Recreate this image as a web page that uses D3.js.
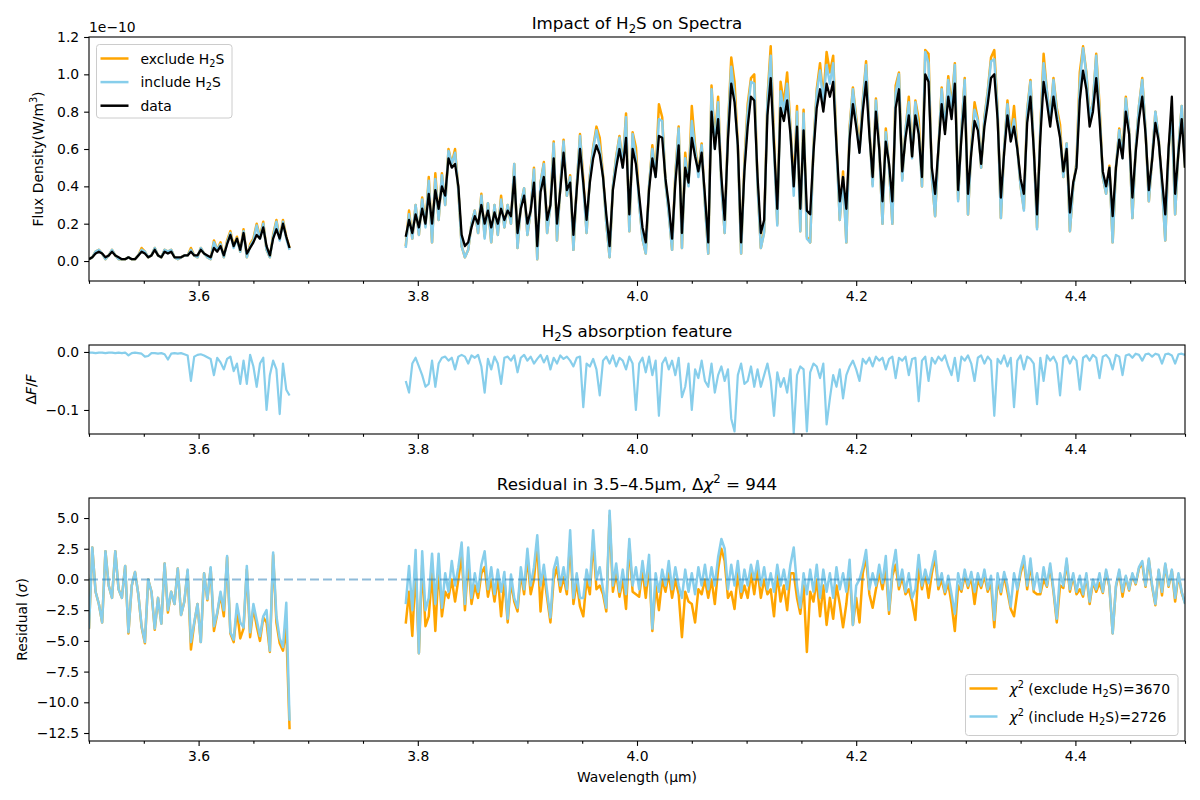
<!DOCTYPE html>
<html>
<head>
<meta charset="utf-8">
<title>Impact of H2S on Spectra</title>
<script src="https://cdn.jsdelivr.net/npm/d3@7"></script>
<style>
  body { margin: 0; background: #fff; }
  svg { display: block; font-family: 'DejaVu Sans', sans-serif; }
</style>
</head>
<body>
<div id="figure"></div>
<script>
// wavelength grid (µm): two observed segments, sampled every 0.003 µm
const WAVE_STEP = 0.003;
const waveStartA = 3.5;
const waveStartB = 3.789;

// flux density, in hundredths of 1e-10 W/m^3
const fluxDataA = [1,2,4,5,4,2,3,5,3,2, 1,1,2,1,1,3,5,4,2,3, 6,3,2,5,4,5,2,2,2,3, 3,5,3,3,6,4,3,2,7,5,
  8,3,9,14,8,12,6,15,4,7, 10,14,12,18,8,3,12,17,12,20, 13,7];
const fluxIncludeA = [1,2,5,6,4,1,3,6,3,1, 1,1,2,1,1,3,6,5,2,3, 7,3,2,6,5,6,2,1,2,3, 3,6,3,2,7,4,2,1,10,6,
  9,2,10,15,7,12,5,16,2,8, 11,19,12,20,6,2,13,21,11,21, 12,6];
const fluxExcludeA = [1,2,5,6,4,1,3,6,3,1, 1,1,2,1,1,3,7,5,2,3, 7,3,2,6,5,6,2,1,2,3, 3,7,3,2,7,4,2,1,11,6,
  10,2,11,16,8,13,5,17,2,9, 12,20,13,21,6,2,14,22,12,22, 13,7];

const fluxDataB = [13,22,15,25,18,28,20,36,20,38, 28,40,35,55,50,52,40,14,8,10, 18,24,20,30,20,27,18,26,20,28,
  22,27,24,45,15,28,35,20,27,42, 8,37,45,22,30,55,20,38,58,38, 42,14,38,60,42,22,42,55,62,57,
  45,25,8,38,50,60,50,66,25,60, 52,35,18,10,38,55,45,67,66,44, 30,12,42,62,15,50,42,66,56,48,
  58,35,10,80,60,76,45,22,65,95, 85,62,10,48,72,88,86,45,15,22, 78,98,62,28,82,75,86,68,40,72,
  28,70,27,25,58,82,92,80,95,88, 96,62,32,45,28,65,84,72,58,80, 96,68,45,80,60,32,64,52,32,82,
  92,48,66,78,56,78,68,45,100,96, 50,36,60,84,68,88,76,95,38,66, 88,36,58,75,70,52,72,84,98,100,
  76,34,58,78,64,72,60,44,36,74, 88,60,25,66,96,85,72,88,76,66, 48,60,26,42,50,86,102,92,72,80,
  98,76,48,40,50,24,50,65,55,80, 68,34,58,76,88,68,38,54,74,64, 44,25,60,88,36,58,76,50];
const fluxIncludeB = [7,25,12,30,14,33,18,43,10,44, 22,46,30,59,52,58,38,8,2,6, 20,27,15,35,12,31,10,30,14,33,
  18,30,20,52,7,30,39,14,27,49, 1,42,52,15,30,63,11,40,64,35, 45,6,40,67,40,15,45,60,70,61,
  45,20,2,40,55,66,50,77,16,68, 55,30,12,4,40,60,45,76,75,42, 25,6,45,71,7,55,40,75,60,45,
  62,30,4,92,60,85,40,15,70,104, 88,60,4,50,80,96,95,40,7,15, 85,110,60,19,91,80,95,70,35,80,
  16,79,12,10,60,90,102,85,105,95, 106,60,22,45,10,70,92,75,58,85, 105,70,40,86,60,20,69,50,20,90,
  100,43,70,85,55,85,70,40,112,106, 45,24,60,92,70,97,80,105,32,70, 97,25,60,81,75,50,76,90,107,108,
  80,23,60,84,65,76,60,40,27,80, 96,60,17,70,106,91,75,97,80,68, 45,63,16,40,52,95,114,100,76,85,
  110,80,45,36,50,10,50,70,55,87, 70,23,60,83,97,70,32,55,80,65, 40,11,60,78,25,60,83,50];
const fluxExcludeB = [8,27,12,30,14,34,19,45,10,47, 22,47,30,60,52,60,38,8,2,6, 20,27,15,36,13,31,10,30,14,35,
  18,30,20,52,7,30,39,14,27,50, 1,42,53,15,31,64,11,40,65,35, 46,6,40,68,44,15,46,61,72,66,
  46,20,2,40,56,67,51,79,16,69, 61,31,12,4,40,62,46,84,77,42, 26,6,47,72,7,58,41,83,62,47,
  63,31,4,94,64,88,41,15,72,109, 96,62,4,53,84,98,100,41,7,16, 87,115,66,20,96,84,101,72,40,83,
  16,81,13,10,61,92,106,87,112,101, 110,63,22,48,10,72,93,77,61,86, 107,71,41,87,61,20,71,50,20,94,
  101,44,70,88,56,86,76,40,113,111, 45,24,60,93,70,99,83,106,33,70, 98,25,61,85,76,50,77,91,109,113,
  81,23,60,86,66,83,61,40,28,81, 97,61,18,71,111,91,76,98,82,73, 45,63,16,40,53,101,115,101,77,85,
  111,84,45,36,51,10,50,71,57,88, 70,23,60,83,98,70,32,55,80,65, 41,11,60,78,25,60,83,50];

// H2S absorption ΔF/F, in thousandths
const absorptionA = [-1,-1,-2,-1,-1,-2,-1,-1,-2,-1, -2,-1,-6,-2,-1,-2,-3,-8,-7,-2, -2,-3,-2,-4,-13,-3,-2,-3,-2,-4,
  -6,-50,-8,-5,-4,-6,-9,-12,-40,-10, -18,-30,-12,-8,-33,-20,-55,-15,-55,-5, -25,-60,-20,-10,-100,-40,-15,-30,-107,-20,
  -65,-75];
const absorptionB = [-50,-70,-20,-10,-25,-40,-60,-55,-15,-60, -20,-10,-8,-15,-10,-30,-8,-5,-8,-20,
  -6,-10,-5,-25,-70,-12,-30,-8,-20,-55, -10,-8,-15,-6,-35,-10,-5,-15,-8,-20, -12,-5,-18,-7,-30,-10,-20,-6,-12,-8,
  -15,-25,-10,-8,-95,-20,-25,-12,-30,-75, -15,-8,-20,-6,-25,-10,-15,-30,-8,-20, -100,-20,-10,-35,-8,-40,-15,-110,-20,-10,
  -30,-15,-40,-10,-78,-60,-20,-100,-30,-45, -15,-50,-60,-20,-70,-40,-25,-50,-30,-115, -137,-40,-20,-55,-50,-25,-60,-30,-60,-40,
  -20,-50,-110,-35,-60,-45,-70,-30,-140,-40, -25,-30,-137,-35,-20,-25,-45,-20,-125,-80, -40,-60,-30,-80,-40,-25,-15,-30,-50,-12,
  -20,-10,-25,-8,-15,-10,-30,-12,-8,-45, -10,-15,-8,-40,-12,-10,-85,-15,-8,-50, -10,-20,-8,-15,-6,-25,-40,-10,-50,-8,
  -15,-6,-20,-50,-10,-6,-20,-8,-15,-110, -12,-20,-6,-25,-10,-95,-15,-6,-30,-8, -12,-20,-90,-10,-50,-6,-15,-8,-20,-75,
  -10,-6,-20,-8,-15,-65,-10,-6,-15,-5, -10,-45,-8,-5,-12,-30,-5,-8,-40,-6, -4,-10,-3,-5,-15,-4,-3,-8,-3,-5,
  -20,-4,-3,-6,-20,-4,-3,-5];

// residuals, in tenths of sigma
const residIncludeA = [-40,26,-10,-20,-35,23,-5,-15,23,-8, -15,11,-43,-5,6,-12,-38,-51,0,-10, -40,-15,-36,13,-25,-10,-20,9,-29,-18,
  8,-51,-35,-20,-51,5,-16,10,-38,-27, -10,-25,19,-43,-49,-20,-35,-39,11,-43, -20,-33,-46,-30,-25,-58,22,-30,-48,-55,
  -19,-115];
const residExcludeA = [-40,26,-10,-20,-35,23,-5,-15,23,-8, -15,11,-44,-5,6,-12,-39,-52,0,-10, -41,-15,-36,13,-27,-10,-20,9,-29,-18,
  7,-57,-36,-20,-51,5,-17,9,-42,-28, -12,-30,18,-44,-51,-25,-48,-40,8,-47, -23,-38,-50,-31,-35,-59,20,-35,-52,-58,
  -40,-122];
const residIncludeB = [-20,11,-25,24,-60,23,-25,-15,21,-20, 21,-23,5,-10,15,-5,10,30,-20,26, -15,5,-10,12,23,-8,10,-12,8,-10,
  6,-32,4,-15,-23,10,-8,25,-5,10, 36,-5,12,-10,-31,8,18,-5,10,-8, 40,-15,5,-15,-15,8,-5,40,0,10,
  -8,-23,56,-5,13,-10,8,-12,33,-5, 10,-8,15,-5,20,-40,5,-10,8,-5, 15,-8,10,-5,-15,8,-10,5,-12,10,
  -5,12,-8,10,-5,18,33,25,-8,12, -5,15,-10,8,-5,12,0,15,-5,10, -8,5,-10,12,-5,8,-8,12,26,-5,
  -23,5,-12,8,-10,12,-15,8,-10,5, -15,10,-8,5,-10,16,-37,-5,0,10, 24,-8,5,-5,12,-3,19,-25,8,24,
  -5,8,-10,5,-15,-8,20,-5,8,-3, 10,23,-5,5,-10,3,-12,-28,5,-8, 8,-5,6,-10,5,-5,8,-8,3,-33,
  5,-10,6,-5,-22,5,-8,8,19,-5, 17,-8,5,-10,10,-5,13,-8,-32,5, -5,17,-8,5,-10,3,-12,5,-18,0,
  -8,5,-10,8,-5,-44,-5,8,-10,3, -8,5,-3,10,15,-5,17,-5,-20,8, -10,13,-5,8,-15,5,-10,-20];
const residExcludeB = [-36,-10,-46,10,-60,12,-38,-30,5,-42, 10,-30,-10,-15,0,-18,0,20,-25,15, -20,-5,-15,5,10,-14,0,-18,2,-30,
  0,-35,-2,-18,-26,5,-12,18,-12,0, 30,-26,5,-15,-35,0,10,-10,2,-12, 30,-20,-2,-22,-30,0,-12,32,-8,-5,
  -12,-26,52,-10,5,-14,0,-24,28,-10, -12,-14,8,-15,12,-42,-5,-25,0,-10, 5,-15,0,-12,-47,-10,-18,-20,-35,-8,
  -12,0,-15,0,-20,8,25,15,-15,-10, -24,5,-15,-5,-15,5,-12,8,-15,0, -12,-8,-30,5,-18,-5,-25,5,5,-15,
  -28,-5,-59,-10,-18,0,-30,-5,-37,-15, -32,-5,-20,-39,-20,8,-37,-15,-35,5, 18,-12,-23,-8,5,-8,10,-28,3,12,
  -8,2,-12,-8,-18,-33,10,-8,5,-15, 5,18,-8,0,-12,-3,-20,-42,-5,-10, 3,-7,2,-20,0,-7,3,-10,-3,-39,
  0,-12,3,-10,-24,-30,-10,5,15,-8, 12,-10,-12,-12,0,-6,10,-10,-35,-5, -7,14,-10,3,-12,-8,-14,3,-20,-2,
  -10,-3,-11,6,-6,-44,-6,6,-14,2, -9,4,-4,9,13,-6,16,-6,-21,7, -13,12,-6,7,-18,4,-11,-19];

// ticks
const xMajorTicks = [3.6, 3.8, 4.0, 4.2, 4.4];
const xMinorTicks = [3.5, 3.55, 3.65, 3.7, 3.75, 3.85, 3.9, 3.95, 4.05, 4.1, 4.15, 4.25, 4.3, 4.35, 4.45, 4.5];
const fluxTicks = [0, 0.2, 0.4, 0.6, 0.8, 1.0, 1.2];
const absorptionTicks = [0, -0.1];
const residualTicks = [5, 2.5, 0, -2.5, -5, -7.5, -10, -12.5];

const chi2Exclude = 3670;
const chi2Include = 2726;
const deltaChi2 = 944;

class SpectrumFigure {
  constructor() {
    this.colors = {
      exclude: '#ffa500',
      include: '#87ceeb',
      data: '#000000',
      zero: '#1f77b4',
      legendEdge: '#cccccc',
    };
    this.fontSize = 13.9;
    this.left = 89;
    this.right = 1185;
    this.x = d3.scaleLinear().domain([3.5, 4.5]).range([this.left, this.right]);

    this.svg = d3.select('#figure')
      .append('svg')
      .attr('width', 1200)
      .attr('height', 800);
    this.svg.append('rect').attr('width', 1200).attr('height', 800).attr('fill', '#fff');

    this.drawFlux();
    this.drawAbsorption();
    this.drawResidual();
  }

  toPoints(start, values, unit) {
    return values.map((v, i) => ({ w: start + i * WAVE_STEP, v: v * unit }));
  }

  // small mathtext-like helper: parts = [[text, style], ...]
  rich(textSel, parts, size) {
    parts.forEach(([t, style]) => {
      const ts = textSel.append('tspan').text(t);
      if (style === 'sub') ts.attr('font-size', size * 0.7).attr('baseline-shift', -size * 0.22);
      if (style === 'sup') ts.attr('font-size', size * 0.7).attr('baseline-shift', size * 0.42);
      if (style === 'it') ts.attr('font-style', 'italic');
    });
    return textSel;
  }

  makePanel(id, top, bottom, domain) {
    const y = d3.scaleLinear().domain(domain).range([bottom, top]);
    const g = this.svg.append('g');
    this.svg.append('clipPath').attr('id', `clip-${id}`)
      .append('rect')
      .attr('x', this.left).attr('y', top)
      .attr('width', this.right - this.left).attr('height', bottom - top);
    const plot = g.append('g').attr('clip-path', `url(#clip-${id})`);
    return { id, top, bottom, y, g, plot };
  }

  drawLine(panel, points, color, width) {
    const { x } = this;
    panel.plot.append('path')
      .datum(points)
      .attr('fill', 'none')
      .attr('stroke', color)
      .attr('stroke-width', width)
      .attr('stroke-linejoin', 'round')
      .attr('d', d3.line().x((d) => x(d.w)).y((d) => panel.y(d.v)));
  }

  styleAxis(sel) {
    sel.select('.domain').remove();
    sel.attr('font-family', null).attr('font-size', null);
    sel.selectAll('line').attr('stroke', '#000').attr('stroke-width', 1.1);
    sel.selectAll('text').attr('fill', '#000').attr('font-size', this.fontSize);
  }

  drawAxes(panel, yTicks) {
    const { g, y, top, bottom } = panel;
    g.append('g')
      .attr('transform', `translate(0,${bottom})`)
      .call(d3.axisBottom(this.x).tickValues(xMinorTicks).tickSize(2.8).tickFormat(''))
      .call((s) => this.styleAxis(s));
    g.append('g')
      .attr('transform', `translate(0,${bottom})`)
      .call(d3.axisBottom(this.x).tickValues(xMajorTicks).tickSize(4.9).tickPadding(4.9)
        .tickFormat(d3.format('.1f')))
      .call((s) => this.styleAxis(s));
    g.append('g')
      .attr('transform', `translate(${this.left},0)`)
      .call(d3.axisLeft(y).tickValues(yTicks).tickSize(4.9).tickPadding(4.9)
        .tickFormat(d3.format('.1f')))
      .call((s) => this.styleAxis(s));
    g.append('rect')
      .attr('x', this.left).attr('y', top)
      .attr('width', this.right - this.left).attr('height', bottom - top)
      .attr('fill', 'none').attr('stroke', '#000').attr('stroke-width', 1.1);
  }

  title(panel, parts) {
    const t = this.svg.append('text')
      .attr('x', (this.left + this.right) / 2)
      .attr('y', panel.top - 8)
      .attr('text-anchor', 'middle')
      .attr('font-size', 16.7)
      .attr('fill', '#000');
    this.rich(t, parts, 16.7);
  }

  yLabel(panel, xPos, parts) {
    const t = this.svg.append('text')
      .attr('transform', `translate(${xPos},${(panel.top + panel.bottom) / 2}) rotate(-90)`)
      .attr('text-anchor', 'middle')
      .attr('font-size', this.fontSize)
      .attr('fill', '#000');
    this.rich(t, parts, this.fontSize);
  }

  legend(x0, y0, w, h, entries) {
    const g = this.svg.append('g');
    g.append('rect')
      .attr('x', x0).attr('y', y0).attr('width', w).attr('height', h)
      .attr('rx', 3)
      .attr('fill', '#fff').attr('fill-opacity', 0.8)
      .attr('stroke', this.colors.legendEdge).attr('stroke-width', 1);
    entries.forEach((e, i) => {
      const cy = y0 + 14 + i * e.step;
      g.append('line')
        .attr('x1', x0 + 4).attr('x2', x0 + 32)
        .attr('y1', cy).attr('y2', cy)
        .attr('stroke', e.color).attr('stroke-width', 2.5);
      const t = g.append('text')
        .attr('x', x0 + 44).attr('y', cy + 5)
        .attr('font-size', this.fontSize).attr('fill', '#000');
      this.rich(t, e.label, this.fontSize);
    });
  }

  drawFlux() {
    const panel = this.makePanel('flux', 37, 281, [-0.107, 1.2]);
    const { colors } = this;
    const unit = 0.01;
    [fluxExcludeA, fluxExcludeB].forEach((vals, k) => this.drawLine(panel,
      this.toPoints(k ? waveStartB : waveStartA, vals, unit), colors.exclude, 2.5));
    [fluxIncludeA, fluxIncludeB].forEach((vals, k) => this.drawLine(panel,
      this.toPoints(k ? waveStartB : waveStartA, vals, unit), colors.include, 2.5));
    [fluxDataA, fluxDataB].forEach((vals, k) => this.drawLine(panel,
      this.toPoints(k ? waveStartB : waveStartA, vals, unit), colors.data, 2.3));
    this.drawAxes(panel, fluxTicks);

    this.svg.append('text')
      .attr('x', this.left).attr('y', 32)
      .attr('font-size', this.fontSize).attr('fill', '#000')
      .text('1e\u221210');
    this.title(panel, [['Impact of H'], ['2', 'sub'], ['S on Spectra']]);
    this.yLabel(panel, 43, [['Flux Density(W/m'], ['3', 'sup'], [')']]);
    this.legend(96.5, 44.5, 135.5, 73.5, [
      { color: colors.exclude, step: 23.6, label: [['exclude H'], ['2', 'sub'], ['S']] },
      { color: colors.include, step: 23.6, label: [['include H'], ['2', 'sub'], ['S']] },
      { color: colors.data, step: 23.6, label: [['data']] },
    ]);
  }

  drawAbsorption() {
    const panel = this.makePanel('absorption', 345, 434, [-0.1414, 0.012]);
    const unit = 0.001;
    [absorptionA, absorptionB].forEach((vals, k) => this.drawLine(panel,
      this.toPoints(k ? waveStartB : waveStartA, vals, unit), this.colors.include, 2.2));
    this.drawAxes(panel, absorptionTicks);
    this.title(panel, [['H'], ['2', 'sub'], ['S absorption feature']]);
    this.yLabel(panel, 36, [['\u0394'], ['F', 'it'], ['/'], ['F', 'it']]);
  }

  drawResidual() {
    const panel = this.makePanel('residual', 498, 741, [-13.15, 6.63]);
    const { colors } = this;
    const unit = 0.1;
    [residExcludeA, residExcludeB].forEach((vals, k) => this.drawLine(panel,
      this.toPoints(k ? waveStartB : waveStartA, vals, unit), colors.exclude, 2.5));
    [residIncludeA, residIncludeB].forEach((vals, k) => this.drawLine(panel,
      this.toPoints(k ? waveStartB : waveStartA, vals, unit), colors.include, 2.5));

    panel.plot.append('line')
      .attr('x1', this.left).attr('x2', this.right)
      .attr('y1', panel.y(0)).attr('y2', panel.y(0))
      .attr('stroke', colors.zero).attr('stroke-opacity', 0.5)
      .attr('stroke-width', 2).attr('stroke-dasharray', '9,4');

    this.drawAxes(panel, residualTicks);
    this.title(panel, [['Residual in 3.5\u20134.5\u00b5m, \u0394'], ['\u03c7', 'it'], ['2', 'sup'],
      [` = ${deltaChi2}`]]);
    this.yLabel(panel, 27, [['Residual ('], ['\u03c3', 'it'], [')']]);

    this.svg.append('text')
      .attr('x', (this.left + this.right) / 2).attr('y', 782)
      .attr('text-anchor', 'middle')
      .attr('font-size', this.fontSize).attr('fill', '#000')
      .text('Wavelength (\u00b5m)');

    this.legend(965.5, 674.5, 212.5, 61, [
      { color: colors.exclude, step: 28, label: [['\u03c7', 'it'], ['2', 'sup'], [' (exclude H'], ['2', 'sub'],
        [`S)=${chi2Exclude}`]] },
      { color: colors.include, step: 28, label: [['\u03c7', 'it'], ['2', 'sup'], [' (include H'], ['2', 'sub'],
        [`S)=${chi2Include}`]] },
    ]);
  }
}

new SpectrumFigure();
</script>
</body>
</html>
